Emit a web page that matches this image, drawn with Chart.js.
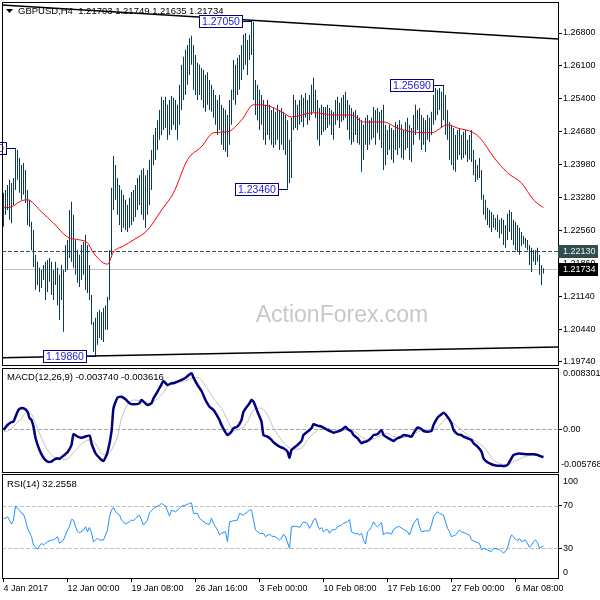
<!DOCTYPE html>
<html>
<head>
<meta charset="utf-8">
<script src="https://cdn.jsdelivr.net/npm/chart.js@4.4.1/dist/chart.umd.min.js"></script>
<style>
body { margin: 0; background: #fff; }
#wrap { position: relative; width: 600px; height: 600px; overflow: hidden; }
canvas { position: absolute; left: 0; }
</style>
</head>
<body>
<div id="wrap">
  <canvas id="priceChart" width="600" height="367" style="top:0;width:600px;height:367px"></canvas>
  <canvas id="macdChart" width="600" height="108" style="top:366px;width:600px;height:108px"></canvas>
  <canvas id="rsiChart" width="600" height="128" style="top:472px;width:600px;height:128px"></canvas>
</div>
<script>
// GBPUSD H4 bars, index 0 = 4 Jan 2017 16:00
const highs = [
  1.2337,1.2343,1.2354,1.2365,1.2358,1.2369,1.2433,1.2429,1.2412,1.2397,
  1.2401,1.2386,1.2343,1.2322,1.2275,1.2257,1.2204,1.2189,1.2176,1.2172,
  1.2182,1.2189,1.2193,1.2197,1.2189,1.2172,1.2189,1.2176,1.2161,1.2182,
  1.2172,1.2225,1.2236,1.2300,1.2318,1.2290,1.2236,1.2214,1.2204,1.2225,
  1.2232,1.2247,1.2225,1.2182,1.2118,1.2060,1.2069,1.2081,1.2086,1.2081,
  1.2090,1.2096,1.2114,1.2214,1.2348,1.2416,1.2397,1.2369,1.2354,1.2343,
  1.2333,1.2322,1.2311,1.2326,1.2339,1.2343,1.2354,1.2369,1.2375,1.2386,
  1.2390,1.2375,1.2386,1.2408,1.2429,1.2461,1.2476,1.2493,1.2515,1.2543,
  1.2536,1.2543,1.2526,1.2536,1.2545,1.2541,1.2536,1.2526,1.2569,1.2612,
  1.2629,1.2644,1.2654,1.2669,1.2674,1.2654,1.2633,1.2616,1.2612,1.2605,
  1.2601,1.2590,1.2596,1.2579,1.2569,1.2558,1.2547,1.2536,1.2547,1.2526,
  1.2519,1.2515,1.2504,1.2536,1.2558,1.2622,1.2612,1.2627,1.2633,1.2654,
  1.2676,1.2680,1.2665,1.2676,1.2705,1.2704,1.2579,1.2569,1.2558,1.2547,
  1.2536,1.2526,1.2536,1.2526,1.2515,1.2519,1.2511,1.2526,1.2515,1.2519,
  1.2511,1.2504,1.2493,1.2451,1.2498,1.2547,1.2536,1.2526,1.2536,1.2547,
  1.2541,1.2551,1.2536,1.2547,1.2569,1.2584,1.2558,1.2536,1.2519,1.2526,
  1.2521,1.2521,1.2526,1.2519,1.2515,1.2511,1.2536,1.2543,1.2530,1.2541,
  1.2547,1.2554,1.2536,1.2526,1.2519,1.2511,1.2515,1.2504,1.2498,1.2493,
  1.2483,1.2498,1.2504,1.2493,1.2498,1.2521,1.2515,1.2519,1.2511,1.2515,
  1.2526,1.2483,1.2472,1.2483,1.2476,1.2472,1.2489,1.2483,1.2493,1.2483,
  1.2472,1.2489,1.2498,1.2483,1.2476,1.2504,1.2526,1.2515,1.2519,1.2504,
  1.2498,1.2493,1.2504,1.2498,1.2511,1.2547,1.2562,1.2558,1.2562,1.2554,
  1.2569,1.2547,1.2515,1.2489,1.2483,1.2476,1.2461,1.2472,1.2476,1.2461,
  1.2468,1.2472,1.2451,1.2461,1.2472,1.2429,1.2408,1.2397,1.2412,1.2386,
  1.2333,1.2322,1.2305,1.2300,1.2296,1.2290,1.2283,1.2290,1.2279,1.2283,
  1.2279,1.2268,1.2292,1.2300,1.2296,1.2279,1.2275,1.2268,1.2262,1.2253,
  1.2245,1.2240,1.2236,1.2225,1.2219,1.2214,1.2214,1.2219,1.2204,1.2182,
  1.2175
];
const lows = [
  1.2264,1.2290,1.2300,1.2279,1.2272,1.2311,1.2343,1.2365,1.2337,1.2322,
  1.2333,1.2315,1.2268,1.2264,1.2214,1.2178,1.2129,1.2139,1.2124,1.2133,
  1.2150,1.2107,1.2124,1.2146,1.2118,1.2107,1.2139,1.2096,1.2064,1.2107,
  1.2039,1.2167,1.2172,1.2197,1.2189,1.2176,1.2161,1.2144,1.2135,1.2150,
  1.2161,1.2129,1.2122,1.2107,1.2054,1.1996,1.1986,1.2011,1.2026,1.2021,
  1.2017,1.2043,1.2043,1.2107,1.2204,1.2300,1.2322,1.2290,1.2268,1.2253,
  1.2262,1.2257,1.2253,1.2262,1.2268,1.2275,1.2285,1.2300,1.2311,1.2290,
  1.2279,1.2262,1.2290,1.2311,1.2343,1.2397,1.2408,1.2429,1.2451,1.2461,
  1.2472,1.2476,1.2451,1.2461,1.2472,1.2483,1.2472,1.2451,1.2483,1.2515,
  1.2536,1.2547,1.2569,1.2590,1.2612,1.2558,1.2547,1.2536,1.2547,1.2536,
  1.2519,1.2511,1.2526,1.2515,1.2511,1.2498,1.2483,1.2461,1.2472,1.2440,
  1.2429,1.2425,1.2414,1.2440,1.2483,1.2536,1.2526,1.2547,1.2558,1.2579,
  1.2601,1.2612,1.2590,1.2622,1.2633,1.2536,1.2504,1.2493,1.2472,1.2483,
  1.2451,1.2440,1.2461,1.2451,1.2440,1.2433,1.2440,1.2451,1.2429,1.2440,
  1.2429,1.2418,1.2346,1.2358,1.2369,1.2472,1.2476,1.2472,1.2483,1.2489,
  1.2478,1.2498,1.2483,1.2493,1.2504,1.2511,1.2498,1.2451,1.2438,1.2461,
  1.2468,1.2472,1.2476,1.2483,1.2461,1.2451,1.2483,1.2493,1.2476,1.2489,
  1.2493,1.2498,1.2472,1.2451,1.2440,1.2446,1.2461,1.2444,1.2440,1.2382,
  1.2408,1.2440,1.2429,1.2440,1.2451,1.2455,1.2440,1.2466,1.2451,1.2433,
  1.2386,1.2397,1.2418,1.2429,1.2408,1.2401,1.2429,1.2418,1.2433,1.2412,
  1.2408,1.2429,1.2433,1.2408,1.2403,1.2440,1.2461,1.2472,1.2451,1.2429,
  1.2440,1.2425,1.2451,1.2446,1.2461,1.2483,1.2493,1.2504,1.2515,1.2476,
  1.2493,1.2461,1.2451,1.2408,1.2397,1.2386,1.2382,1.2408,1.2418,1.2408,
  1.2412,1.2418,1.2403,1.2408,1.2403,1.2375,1.2360,1.2365,1.2369,1.2322,
  1.2290,1.2279,1.2268,1.2262,1.2253,1.2262,1.2257,1.2253,1.2240,1.2249,
  1.2225,1.2219,1.2236,1.2253,1.2236,1.2225,1.2214,1.2210,1.2204,1.2223,
  1.2227,1.2219,1.2214,1.2182,1.2167,1.2189,1.2182,1.2189,1.2161,1.2139,
  1.2164
];

// moving average (red)
const maIdx = [0,4,9,12,19,25,32,38,42,45,52,55,60,65,72,79,85,92,99,105,
  112,119,125,132,139,144,155,165,174,180,190,197,204,214,222,227,235,239,245,252,259,265,270];
const maVals = [1.2305,1.2307,1.2320,1.2322,1.2296,1.2272,1.2242,1.2236,1.2230,1.2208,
  1.2184,1.2210,1.2223,1.2236,1.2257,1.2300,1.2337,1.2408,1.2436,1.2466,
  1.2468,1.2493,1.2526,1.2524,1.2511,1.2500,1.2509,1.2504,1.2504,1.2489,
  1.2489,1.2476,1.2468,1.2466,1.2483,1.2476,1.2466,1.2451,1.2414,1.2380,
  1.2358,1.2322,1.2305];

// trend lines
const upperIdx = [-0.75, 277.25];
const upperVals = [1.2740, 1.2667];
const lowerIdx = [-0.75, 277.25];
const lowerVals = [1.1983, 1.2006];

// marked highs / lows
const markIdx = [124, 220, 142, 46, 6];
const markVals = [1.2705, 1.2569, 1.2346, 1.1986, 1.2433];

const levelDashed = 1.2213;
const lastPrice = 1.21734;
const priceTicks = [1.268,1.261,1.254,1.2468,1.2398,1.2328,1.2256,1.2186,1.2114,1.2044,1.1974];

const macdIdx = [0,2,4,5,7,8,10,12,13,14,
  15,16,18,20,22,24,25,27,28,30,
  32,34,35,37,39,43,44,46,48,50,
  52,54,55,57,59,61,63,65,68,69,
  72,74,75,77,79,80,82,84,85,89,
  91,94,95,97,99,101,103,105,108,109,
  112,114,115,117,119,120,123,124,125,127,
  129,130,132,134,135,138,140,142,143,144,
  147,149,150,152,154,155,157,159,160,162,
  164,165,167,169,170,171,172,174,175,177,
  179,180,182,184,185,187,189,190,192,194,
  195,197,199,200,202,204,205,207,209,210,
  212,214,215,217,219,220,222,224,225,227,
  229,230,232,234,235,237,239,240,242,244,
  245,247,249,250,252,254,255,257,259,262,
  265,267,269,270];
const macdVals = [-0.00008,0.00059,0.00100,0.00104,0.00239,0.00276,0.00285,0.00239,0.00154,0.00127,
  0.00037,-0.00116,-0.00279,-0.00383,-0.00437,-0.00437,-0.00414,-0.00391,-0.00400,-0.00356,
  -0.00310,-0.00211,-0.00066,-0.00099,-0.00112,-0.00085,-0.00188,-0.00323,-0.00387,-0.00427,
  -0.00310,-0.00031,0.00285,0.00429,0.00442,0.00407,0.00353,0.00339,0.00353,0.00397,
  0.00330,0.00353,0.00420,0.00510,0.00610,0.00654,0.00600,0.00623,0.00623,0.00668,
  0.00699,0.00758,0.00699,0.00600,0.00519,0.00397,0.00307,0.00262,0.00127,0.00059,
  -0.00076,-0.00031,0.00015,0.00037,0.00127,0.00239,0.00353,0.00397,0.00375,0.00239,
  0.00104,-0.00076,-0.00099,-0.00143,-0.00174,-0.00234,-0.00256,-0.00301,-0.00383,-0.00279,
  -0.00211,-0.00157,-0.00076,-0.00031,0.00015,0.00069,0.00050,0.00037,0.00023,-0.00008,
  -0.00031,-0.00045,-0.00031,-0.00008,0.00015,0.00037,0.00005,-0.00031,-0.00076,-0.00120,
  -0.00188,-0.00174,-0.00157,-0.00112,-0.00076,-0.00066,-0.00008,-0.00076,-0.00112,-0.00143,
  -0.00157,-0.00120,-0.00099,-0.00076,-0.00085,-0.00099,-0.00053,0.00023,0.00005,-0.00022,
  -0.00031,-0.00022,0.00059,0.00158,0.00204,0.00226,0.00172,0.00082,-0.00008,-0.00066,
  -0.00076,-0.00099,-0.00120,-0.00143,-0.00188,-0.00234,-0.00301,-0.00391,-0.00445,-0.00472,
  -0.00481,-0.00491,-0.00491,-0.00499,-0.00481,-0.00391,-0.00346,-0.00329,-0.00329,-0.00337,
  -0.00337,-0.00346,-0.00369,-0.00374];

const sigIdx = [0,2,5,9,11,14,15,17,19,22,
  25,29,32,34,37,40,44,47,49,52,
  54,57,59,62,65,69,72,75,79,82,
  85,89,92,95,98,100,103,105,109,112,
  115,119,122,125,129,132,135,139,142,145,
  149,152,155,159,162,165,169,172,175,179,
  182,185,189,192,195,199,202,205,209,212,
  215,219,222,225,229,232,235,239,242,245,
  249,252,255,259,262,265,270];
const sigVals = [-0.00031,-0.00022,0.00037,0.00150,0.00218,0.00204,0.00150,0.00015,-0.00120,-0.00279,
  -0.00369,-0.00400,-0.00400,-0.00346,-0.00256,-0.00174,-0.00143,-0.00234,-0.00323,-0.00346,
  -0.00279,-0.00099,0.00150,0.00339,0.00397,0.00375,0.00353,0.00375,0.00465,0.00577,
  0.00637,0.00645,0.00668,0.00699,0.00691,0.00623,0.00510,0.00420,0.00285,0.00127,
  -0.00008,0.00015,0.00104,0.00262,0.00285,0.00195,0.00015,-0.00143,-0.00234,-0.00265,
  -0.00256,-0.00143,-0.00053,0.00015,0.00015,-0.00008,-0.00022,-0.00008,-0.00022,-0.00099,
  -0.00143,-0.00130,-0.00076,-0.00053,-0.00099,-0.00112,-0.00099,-0.00066,-0.00008,-0.00008,
  -0.00008,0.00082,0.00150,0.00082,-0.00008,-0.00076,-0.00143,-0.00211,-0.00301,-0.00414,
  -0.00472,-0.00481,-0.00437,-0.00391,-0.00356,-0.00346,-0.003616];
const macdMin = -0.005768, macdMax = 0.008301;

const rsiIdx = [0,1,2,3,4,5,6,8,9,10,
  11,12,13,14,15,17,18,19,20,22,
  24,25,27,28,30,32,33,34,35,36,
  37,38,40,41,42,43,44,45,46,47,
  48,50,52,53,54,55,56,58,59,61,
  63,64,65,66,68,69,70,72,73,75,
  78,79,81,83,84,86,88,89,91,93,
  94,95,97,98,101,103,104,105,106,107,
  108,109,111,112,113,115,117,118,120,122,
  123,124,126,128,130,131,133,134,136,138,
  139,140,141,143,144,146,148,150,152,153,
  154,155,156,157,158,159,160,161,162,163,
  164,166,167,169,170,172,173,174,176,177,
  178,179,180,181,182,183,184,185,186,187,
  189,190,191,193,194,195,197,198,200,202,
  203,205,207,208,209,211,213,214,215,217,
  218,220,222,223,224,226,228,229,231,233,
  234,236,238,239,240,242,244,245,247,248,
  250,252,253,254,255,256,257,258,259,261,
  263,264,265,266,267,268,270];
const rsiVals = [58.2,58.2,59.7,56.6,52.8,56.6,69.7,66.0,62.9,62.2,
  56.6,48.8,44.6,40.9,33.1,29.1,32.2,34.7,33.1,36.2,
  37.8,37.8,40.9,34.7,37.8,47.2,50.3,57.2,56.6,50.3,
  45.6,44.6,47.2,50.3,45.6,49.7,44.6,36.2,37.8,39.4,
  37.8,37.8,47.2,59.7,66.0,68.5,64.4,61.3,56.6,52.8,
  55.0,56.6,55.9,58.2,61.3,56.6,51.9,56.6,63.4,67.6,
  70.7,72.3,69.7,60.3,66.0,64.4,67.6,69.7,70.7,72.3,
  72.8,62.9,62.9,58.2,53.5,52.5,58.2,53.5,50.3,47.2,
  42.5,44.1,45.6,36.2,55.0,55.9,56.6,62.9,61.3,64.4,
  66.0,66.0,47.2,44.1,44.1,40.9,43.4,41.5,40.9,37.8,
  39.4,43.1,40.9,30.0,50.3,50.9,49.7,55.0,53.5,48.8,
  51.9,56.6,58.2,51.9,47.8,49.7,45.6,47.2,47.8,44.1,
  47.2,47.8,50.3,51.9,53.5,55.0,57.2,45.6,43.4,44.1,
  42.5,44.1,37.8,34.0,45.6,47.2,50.3,55.0,51.9,50.3,
  54.0,42.5,44.6,44.1,43.4,47.8,50.3,50.3,47.8,45.6,
  42.5,53.5,58.2,50.3,45.6,46.5,46.5,51.9,59.7,64.4,
  62.9,61.3,48.8,45.6,40.9,42.5,47.2,45.6,44.1,42.5,
  37.8,36.2,34.7,28.4,30.0,28.4,26.8,30.0,29.1,29.1,
  25.3,30.0,37.8,42.5,40.9,38.4,37.1,39.4,36.2,37.8,
  30.9,33.1,36.2,37.8,35.3,30.0,32.26];

const timeIdx = [0,32,64,96,128,160,192,224,256];
const timeLabels = ['4 Jan 2017','12 Jan 00:00','19 Jan 08:00','26 Jan 16:00','3 Feb 00:00',
  '10 Feb 08:00','17 Feb 16:00','27 Feb 00:00','6 Mar 08:00'];

const FONT = "'Liberation Sans', Arial, sans-serif";
Chart.defaults.font.family = FONT;
Chart.defaults.font.size = 9;
Chart.defaults.color = '#000';

const xMin = -0.75, xMax = 277.25;

function pts(xs, ys) {
  return xs.map((x, k) => ({x: x, y: ys[k]}));
}

function frame(ctx, a) {
  ctx.strokeStyle = '#000';
  ctx.lineWidth = 1;
  ctx.setLineDash([]);
  ctx.strokeRect(a.left + 0.5, a.top + 0.5, a.right - a.left, a.bottom - a.top);
}

function hline(ctx, a, py, color, dash) {
  const yy = Math.round(py) + 0.5;
  ctx.save();
  ctx.strokeStyle = color;
  ctx.lineWidth = 1;
  ctx.setLineDash(dash || []);
  ctx.beginPath();
  ctx.moveTo(a.left, yy);
  ctx.lineTo(a.right, yy);
  ctx.stroke();
  ctx.restore();
}

function txt(ctx, s, x, y, color, size, align) {
  ctx.font = size + 'px ' + FONT;
  ctx.fillStyle = color;
  ctx.textAlign = align || 'left';
  ctx.textBaseline = 'middle';
  ctx.fillText(s, x, y);
}

function yAxis(min, max, tickVals, fmt) {
  return {
    position: 'right', min: min, max: max,
    afterFit(s) { s.width = 42; s.paddingTop = 0; s.paddingBottom = 0; },
    afterBuildTicks(s) { s.ticks = tickVals.map(v => ({value: v})); },
    ticks: { callback: fmt, padding: 1, color: '#000', font: {size: 9} },
    grid: { drawOnChartArea: false, tickLength: 4, color: '#000' },
    border: { display: false }
  };
}

const common = {
  responsive: false,
  animation: false,
  plugins: { legend: { display: false }, tooltip: { enabled: false } }
};

// ---------- price panel ----------
const pricePlugin = {
  id: 'priceDecor',
  beforeDatasetsDraw(chart) {
    const {ctx, chartArea: a, scales: {y}} = chart;
    ctx.save();
    ctx.font = '23px ' + FONT;
    ctx.fillStyle = '#c8c8c8';
    ctx.textAlign = 'center';
    ctx.textBaseline = 'alphabetic';
    ctx.fillText('ActionForex.com', (a.left + a.right) / 2 + 62, a.bottom - 43);
    hline(ctx, a, y.getPixelForValue(lastPrice), '#c0c0c0');
    hline(ctx, a, y.getPixelForValue(levelDashed), '#2f4f4f', [4, 2]);
    ctx.restore();
  },
  afterDatasetsDraw(chart) {
    const {ctx, chartArea: a, scales: {x, y}} = chart;
    ctx.save();
    ctx.beginPath();
    ctx.rect(0, 0, a.right, a.bottom);
    ctx.clip();
    markIdx.forEach((idx, k) => {
      const px = Math.round(x.getPixelForValue(idx));
      const py = Math.round(y.getPixelForValue(markVals[k]));
      const s = markVals[k].toFixed(5);
      ctx.font = '10.5px ' + FONT;
      const w = Math.round(ctx.measureText(s).width) + 5;
      const right = px - 10;
      ctx.strokeStyle = '#000080';
      ctx.lineWidth = 1;
      ctx.beginPath();
      ctx.moveTo(right, py + 0.5);
      ctx.lineTo(px, py + 0.5);
      ctx.stroke();
      ctx.fillStyle = '#fff';
      ctx.fillRect(right - w, py - 5, w, 12);
      ctx.strokeRect(right - w + 0.5, py - 5.5, w, 12);
      txt(ctx, s, right - w + 3, py + 1, '#1c1cd0', 10.5);
    });
    ctx.restore();
    frame(ctx, a);
    // title
    ctx.fillStyle = '#000';
    ctx.beginPath();
    ctx.moveTo(a.left + 4, a.top + 7);
    ctx.lineTo(a.left + 11, a.top + 7);
    ctx.lineTo(a.left + 7.5, a.top + 11);
    ctx.closePath();
    ctx.fill();
    txt(ctx, 'GBPUSD,H4  1.21703 1.21749 1.21635 1.21734', a.left + 16, a.top + 9, '#000', 9.5);
  },
  afterDraw(chart) {
    const {ctx, chartArea: a, scales: {y}} = chart;
    const boxes = [[levelDashed, '#2f4f4f', '#f0f0f0'], [lastPrice, '#000', '#fff']];
    boxes.forEach(b => {
      const py = Math.round(y.getPixelForValue(b[0]));
      ctx.fillStyle = b[1];
      ctx.fillRect(a.right, py - 6, 40, 13);
      txt(ctx, b[0].toFixed(5), a.right + 5, py + 0.5, b[2], 9);
    });
  }
};

new Chart(document.getElementById('priceChart'), {
  type: 'bar',
  data: {
    datasets: [
      { type: 'line', data: pts(maIdx, maVals), borderColor: '#ff0000', borderWidth: 1,
        pointRadius: 0, cubicInterpolationMode: 'monotone' },
      { type: 'line', data: pts(upperIdx, upperVals), borderColor: '#000', borderWidth: 1.5, pointRadius: 0 },
      { type: 'line', data: pts(lowerIdx, lowerVals), borderColor: '#000', borderWidth: 1.5, pointRadius: 0 },
      { type: 'bar', data: highs.map((h, i) => ({x: i, y: [lows[i], h]})),
        backgroundColor: '#0a3a5a', barThickness: 1, inflateAmount: 0, borderWidth: 0 }
    ]
  },
  options: Object.assign({}, common, {
    layout: { padding: { left: 2, top: 2, right: 0, bottom: 2 } },
    scales: {
      x: { type: 'linear', min: xMin, max: xMax, display: false, offset: false },
      y: yAxis(1.196755, 1.274653, priceTicks, v => v.toFixed(5))
    }
  }),
  plugins: [pricePlugin]
});

// ---------- MACD panel ----------
const macdPlugin = {
  id: 'macdDecor',
  beforeDatasetsDraw(chart) {
    const {ctx, chartArea: a, scales: {y}} = chart;
    hline(ctx, a, y.getPixelForValue(0), '#a8a8a8', [4, 2]);
  },
  afterDatasetsDraw(chart) {
    const {ctx, chartArea: a} = chart;
    frame(ctx, a);
    txt(ctx, 'MACD(12,26,9) -0.003740 -0.003616', a.left + 5, a.top + 9, '#000', 9.5);
  },
  afterDraw(chart) {
    const {ctx, chartArea: a} = chart;
    txt(ctx, macdMax.toFixed(6), a.right + 5, a.top + 6, '#000', 9);
    txt(ctx, macdMin.toFixed(6), a.right + 3, a.bottom - 7, '#000', 9);
  }
};

new Chart(document.getElementById('macdChart'), {
  type: 'line',
  data: {
    datasets: [
      { data: pts(macdIdx, macdVals), borderColor: '#000080', borderWidth: 2.5, pointRadius: 0, tension: 0.2 },
      { data: pts(sigIdx, sigVals), borderColor: '#c0c0c0', borderWidth: 1, pointRadius: 0, tension: 0.3 }
    ]
  },
  options: Object.assign({}, common, {
    layout: { padding: { left: 2, top: 2, right: 0, bottom: 2 } },
    scales: {
      x: { type: 'linear', min: xMin, max: xMax, display: false },
      y: yAxis(macdMin, macdMax, [0], v => v.toFixed(2))
    }
  }),
  plugins: [macdPlugin]
});

// ---------- RSI panel ----------
const rsiPlugin = {
  id: 'rsiDecor',
  beforeDatasetsDraw(chart) {
    const {ctx, chartArea: a, scales: {y}} = chart;
    hline(ctx, a, y.getPixelForValue(70), '#c0c0c0', [4, 2]);
    hline(ctx, a, y.getPixelForValue(30), '#c0c0c0', [4, 2]);
  },
  afterDatasetsDraw(chart) {
    const {ctx, chartArea: a} = chart;
    frame(ctx, a);
    txt(ctx, 'RSI(14) 32.2558', a.left + 5, a.top + 10, '#000', 9.5);
  },
  afterDraw(chart) {
    const {ctx, chartArea: a} = chart;
    txt(ctx, '100', a.right + 5, a.top + 8, '#000', 9);
    txt(ctx, '0', a.right + 5, a.bottom - 5, '#000', 9);
  }
};

new Chart(document.getElementById('rsiChart'), {
  type: 'line',
  data: {
    datasets: [
      { data: pts(rsiIdx, rsiVals), borderColor: '#1e90ff', borderWidth: 1, pointRadius: 0 }
    ]
  },
  options: Object.assign({}, common, {
    layout: { padding: { left: 2, top: 2, right: 0, bottom: 0 } },
    scales: {
      x: {
        type: 'linear', min: xMin, max: xMax,
        afterFit(s) { s.height = 22; s.paddingLeft = 0; s.paddingRight = 0; },
        afterBuildTicks(s) { s.ticks = timeIdx.map(v => ({value: v})); },
        ticks: { callback: (v, k) => timeLabels[k], align: 'start', maxRotation: 0, autoSkip: false,
                 padding: 1, color: '#000', font: {size: 9} },
        grid: { drawOnChartArea: false, tickLength: 4, color: '#000' },
        border: { display: false }
      },
      y: yAxis(2, 100, [70, 30], v => String(v))
    }
  }),
  plugins: [rsiPlugin]
});
</script>
</body>
</html>
